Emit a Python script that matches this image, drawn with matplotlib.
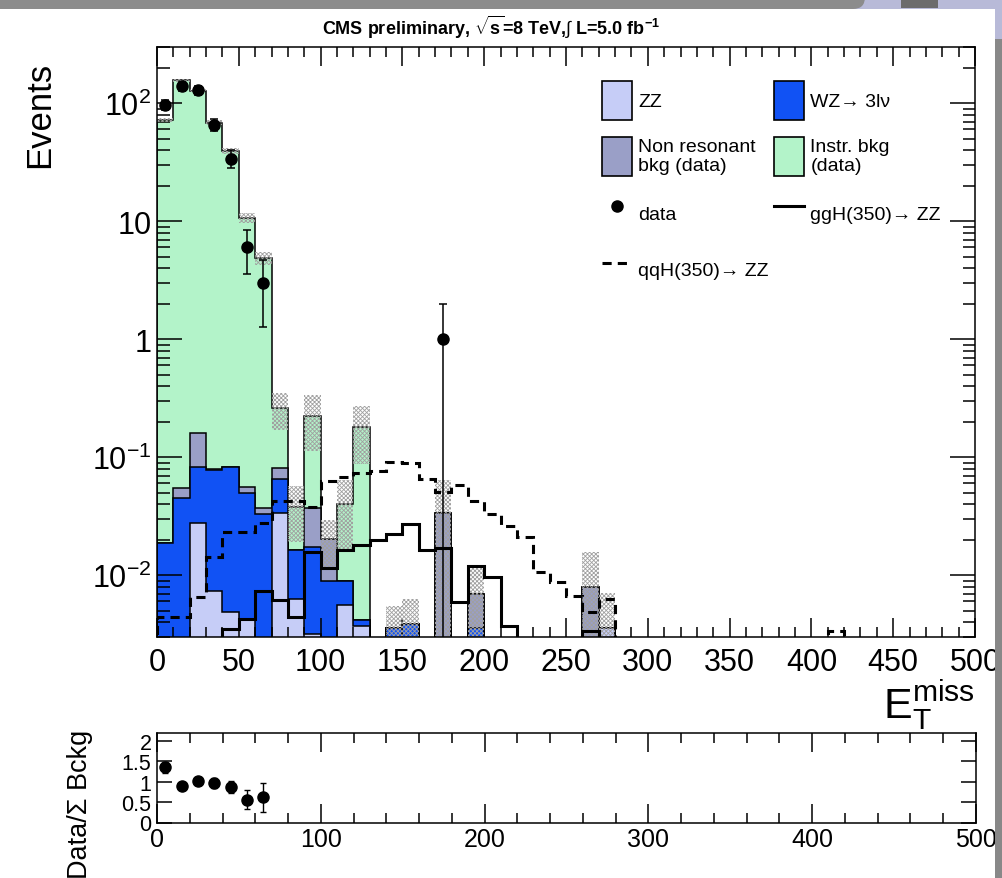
import numpy as np
import matplotlib as mpl
mpl.use('Agg')
import matplotlib.pyplot as plt
from matplotlib.patches import Rectangle, FancyBboxPatch, Patch
from matplotlib.lines import Line2D
from matplotlib.transforms import IdentityTransform
from matplotlib.ticker import FixedLocator, MultipleLocator, LogLocator, NullFormatter, FixedFormatter

mpl.rcParams.update({
    'font.family': ['Liberation Sans', 'DejaVu Sans'],
    'mathtext.fontset': 'custom',
    'mathtext.rm': 'Liberation Sans',
    'mathtext.it': 'Liberation Sans:italic',
    'mathtext.bf': 'Liberation Sans:bold',
    'xtick.direction': 'in',
    'ytick.direction': 'in',
    'xtick.top': True,
    'ytick.right': True,
    'axes.linewidth': 1.1,
    'hatch.linewidth': 0.6,
})

# MET spectrum, 10 GeV bins from 0 to 500
edges = np.arange(0, 510, 10)

zz = [0, 0, 0.028, 0.0073, 0.0049, 0.0042, 0, 0.034, 0.0063, 0.0032,
      0, 0.0056, 0.0037, 0, 0, 0, 0, 0, 0, 0,
      0, 0, 0, 0, 0, 0, 0, 0.0036, 0, 0,
      0, 0, 0, 0, 0, 0, 0, 0, 0, 0,
      0, 0, 0, 0, 0, 0, 0, 0, 0, 0]
wz = [0.0187, 0.045, 0.054, 0.0707, 0.078, 0.0458, 0.033, 0.031, 0.0101, 0.0143,
      0.009, 0.0034, 0.0005, 0, 0.0036, 0.0039, 0, 0, 0, 0.0036,
      0, 0, 0, 0, 0, 0, 0, 0, 0, 0,
      0, 0, 0, 0, 0, 0, 0, 0, 0, 0,
      0, 0, 0, 0, 0, 0, 0, 0, 0, 0]
nonres = [0, 0.010, 0.080, 0.002, 0, 0.006, 0.0045, 0.016, 0, 0.0195,
          0.0115, 0, 0, 0, 0, 0, 0, 0.0335, 0, 0.0034,
          0, 0, 0, 0, 0, 0, 0.008, 0, 0, 0,
          0, 0, 0, 0, 0, 0, 0, 0, 0, 0,
          0, 0, 0, 0, 0, 0, 0, 0, 0, 0]
instr = [72, 156, 128, 68.5, 39.3, 10.64, 4.82, 0.179, 0.0216, 0.187,
         0, 0.031, 0.176, 0, 0, 0, 0, 0, 0, 0,
         0, 0, 0, 0, 0, 0, 0, 0, 0, 0,
         0, 0, 0, 0, 0, 0, 0, 0, 0, 0,
         0, 0, 0, 0, 0, 0, 0, 0, 0, 0]
bkg_err = [3.0, 5.0, 4.0, 3.0, 2.3, 1.1, 0.6, 0.09, 0.019, 0.11,
           0.009, 0.024, 0.093, 0, 0.0019, 0.0024, 0, 0.031, 0, 0.0048,
           0, 0, 0, 0, 0, 0, 0.0078, 0.0035, 0, 0,
           0, 0, 0, 0, 0, 0, 0, 0, 0, 0,
           0, 0, 0, 0, 0, 0, 0, 0, 0, 0]
data = [97, 140, 130, 66, 34, 6, 3, 0, 0, 0,
        0, 0, 0, 0, 0, 0, 0, 1, 0, 0,
        0, 0, 0, 0, 0, 0, 0, 0, 0, 0,
        0, 0, 0, 0, 0, 0, 0, 0, 0, 0,
        0, 0, 0, 0, 0, 0, 0, 0, 0, 0]
ggh = [0, 0, 0, 0, 0.0035, 0.0043, 0.0073, 0.0062, 0.0044, 0.0157,
       0.0116, 0.0164, 0.0181, 0.0199, 0.0224, 0.027, 0.0164, 0.0172, 0.0059, 0.0119,
       0.0096, 0.0037, 0, 0, 0, 0, 0.0034, 0, 0, 0,
       0, 0, 0, 0, 0, 0, 0, 0, 0, 0,
       0, 0, 0, 0, 0, 0, 0, 0, 0, 0]
qqh = [0.0044, 0.0044, 0.0066, 0.0142, 0.0232, 0.0232, 0.028, 0.0424, 0.0424, 0.038,
       0.063, 0.068, 0.074, 0.076, 0.092, 0.09, 0.066, 0.051, 0.0578, 0.0424,
       0.033, 0.026, 0.0213, 0.0107, 0.0088, 0.0067, 0.0049, 0.0063, 0, 0,
       0, 0, 0, 0, 0, 0, 0, 0, 0, 0,
       0, 0.0034, 0, 0, 0, 0, 0, 0, 0, 0]

labels = ['ZZ', 'WZ\u2192 3l\u03bd', 'Non resonant\nbkg (data)', 'Instr. bkg\n(data)']
colors = ['#c6cdf7', '#1152f4', '#9a9fc7', '#b3f3c9']

W, H = 1002, 879
fig = plt.figure(figsize=(W / 100, H / 100), dpi=100)
ax = fig.add_axes([157 / W, 1 - 638 / H, 818 / W, 590 / H])
rax = fig.add_axes([157 / W, 1 - 823.5 / H, 819 / W, 90 / H])

centers = 0.5 * (edges[1:] + edges[:-1])
stack = np.cumsum(np.array([zz, wz, nonres, instr]), axis=0)
total = stack[-1]
err = np.array(bkg_err)
data = np.array(data, dtype=float)
floor = 1e-5

# stacked backgrounds, drawn from the total downwards like THStack
for i in range(3, -1, -1):
    ax.stairs(stack[i], edges, baseline=floor, fill=True, color=colors[i],
              lw=0, zorder=1.0 + 0.1 * (3 - i))
    ax.stairs(stack[i], edges, baseline=floor, color='black', lw=1.1,
              zorder=1.05 + 0.1 * (3 - i))

# background uncertainty band
sel = total > 0
ax.bar(centers[sel], 2 * err[sel], bottom=total[sel] - err[sel], width=10,
       facecolor='none', edgecolor='#a0a0a0', hatch='xxxxxxxx', lw=0, zorder=1.6)

# signal hypotheses
ax.stairs(ggh, edges, color='black', lw=2.2, zorder=1.8)
ax.stairs(qqh, edges, color='black', lw=2.2, ls=(0, (3, 2)), zorder=1.8)

# observed events
has = data > 0
ax.errorbar(centers[has], data[has], yerr=np.sqrt(data[has]), fmt='o', color='black',
            ms=8, elinewidth=1.1, capsize=3, capthick=1.1, zorder=2.2)

ax.set_yscale('log')
ax.set_xlim(0, 500)
ax.set_ylim(0.003, 300)
ax.xaxis.set_major_locator(MultipleLocator(50))
ax.xaxis.set_minor_locator(MultipleLocator(10))
ax.yaxis.set_major_locator(FixedLocator([1e-2, 1e-1, 1, 10, 100]))
ax.yaxis.set_major_formatter(FixedFormatter([r'$10^{-2}$', r'$10^{-1}$', '1', '10', r'$10^{2}$']))
ax.yaxis.set_minor_locator(LogLocator(base=10, subs=np.arange(2, 10)))
ax.yaxis.set_minor_formatter(NullFormatter())
ax.tick_params(axis='x', which='major', length=14, width=1.1, labelsize=22, pad=7)
ax.tick_params(axis='x', which='minor', length=7, width=1.1)
ax.tick_params(axis='y', which='major', length=18, width=1.1, labelsize=22, pad=4)
ax.tick_params(axis='y', which='minor', length=9, width=1.1)

handles = [Patch(facecolor=colors[0], edgecolor='black', lw=1.2),
           Patch(facecolor=colors[2], edgecolor='black', lw=1.2),
           Line2D([], [], marker='o', color='black', ls='none', ms=8),
           Line2D([], [], color='black', lw=2.2, ls=(0, (3, 2))),
           Patch(facecolor=colors[1], edgecolor='black', lw=1.2),
           Patch(facecolor=colors[3], edgecolor='black', lw=1.2),
           Line2D([], [], color='black', lw=2.2)]
names = [labels[0], labels[2], 'data', 'qqH(350)\u2192 ZZ',
         labels[1], labels[3], 'ggH(350)\u2192 ZZ']
ax.legend(handles, names, ncol=2, loc='upper left',
          bbox_to_anchor=(602 / W, 1 - 82 / H), bbox_transform=fig.transFigure,
          frameon=False, borderpad=0, borderaxespad=0, fontsize=14,
          handlelength=1.55, handleheight=2.7, handletextpad=0.3,
          labelspacing=0.9, columnspacing=0.3)

# data / background ratio
ratio_top = 2.2
ok = (total > 0) & (data > 0)
ratio = np.where(ok, data / np.where(total > 0, total, 1), np.nan)
rerr = np.where(ok, np.sqrt(data) / np.where(total > 0, total, 1), np.nan)
show = ok & (ratio < ratio_top)
rax.errorbar(centers[show], ratio[show], yerr=rerr[show], fmt='o', color='black',
             ms=8, elinewidth=1.0, capsize=2.5, capthick=1.0)
rax.set_xlim(0, 500)
rax.set_ylim(0, ratio_top)
rax.xaxis.set_major_locator(MultipleLocator(100))
rax.xaxis.set_minor_locator(MultipleLocator(20))
rax.yaxis.set_major_locator(FixedLocator([0, 0.5, 1, 1.5, 2]))
rax.yaxis.set_major_formatter(FixedFormatter(['0', '0.5', '1', '1.5', '2']))
rax.tick_params(axis='x', which='major', length=14, width=1.1, labelsize=18, pad=3)
rax.tick_params(axis='x', which='minor', length=7, width=1.1)
rax.tick_params(axis='y', which='major', length=11, width=1.1, labelsize=15.5, pad=4)

fig.text(491 / W, 1 - 27 / H,
         r'CMS preliminary, $\sqrt{\mathbf{s}}$=8 TeV,$\int$ L=5.0 fb$^{\mathbf{-1}}$',
         ha='center', va='center', fontsize=13, fontweight='bold')
fig.text(40 / W, 1 - 62 / H, 'Events', rotation=90, ha='center', va='top', fontsize=25)
fig.text(975 / W, 1 - 718 / H, r'$\mathregular{E_{T}^{miss}}$', ha='right',
         va='baseline', fontsize=31)
fig.text(80 / W, 1 - 730 / H, 'Data/\u03a3 Bckg', rotation=90, ha='center', va='top',
         fontsize=19.5)


def px_rect(x0, y0, x1, y1, **kw):
    # rectangle in pixels, measured from the top-left corner of the canvas
    return Rectangle((x0, H - y1), x1 - x0, y1 - y0, transform=IdentityTransform(), **kw)


# window frame around the canvas
lav = '#b8bad8'
fig.add_artist(px_rect(0, 0, W, 10, color=lav, lw=0, zorder=10))
fig.add_artist(FancyBboxPatch((-40, H - 10), 905, 60, boxstyle='round,pad=0,rounding_size=12',
                              transform=IdentityTransform(), color='#8c8c8c', lw=0, zorder=11))
fig.add_artist(px_rect(901, 0, 938, 9, color='#6c6c6c', lw=0, zorder=12))
fig.add_artist(px_rect(995, 0, W, 40, color=lav, lw=0, zorder=10))
fig.add_artist(px_rect(995, 40, W, H, color='#888888', lw=0, zorder=10))

fig.savefig('out.png', dpi=100)
